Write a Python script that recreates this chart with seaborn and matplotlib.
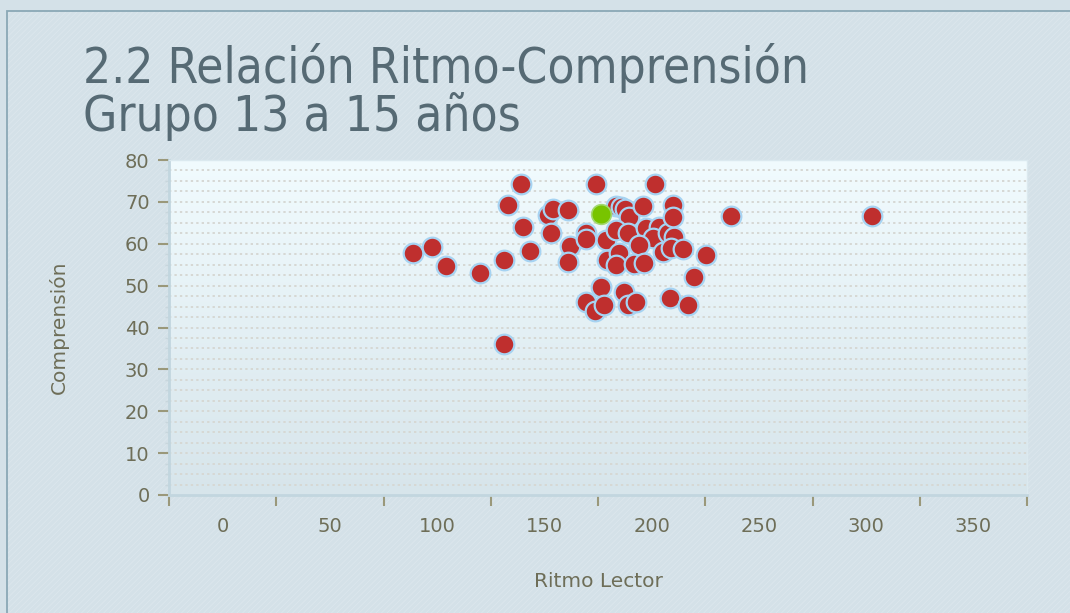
import numpy as np
import pandas as pd
import matplotlib
matplotlib.use("Agg")
import matplotlib.pyplot as plt
from matplotlib.patches import Rectangle
from matplotlib.ticker import MultipleLocator, FixedLocator
import seaborn as sns

# datos (Ritmo lector, Comprension)
ritmo = [88.8, 97.7, 104.2, 120.1, 131.3, 131.3, 133.2, 139.3, 140.2, 143.5,
         151.9, 154.2, 153.3, 161.2, 162.1, 161.2, 169.6, 169.6, 174.3, 169.6,
         173.4, 176.2, 177.6, 178.5, 179.4, 183.6, 185.5, 187.4, 189.3, 183.6,
         188.8, 184.6, 183.2, 195.8, 197.2, 203.3, 200.5, 207.5, 210.3, 193.9,
         205.1, 208.9, 214.5, 191.6, 196.3, 186.9, 188.8, 192.5, 201.4, 209.8,
         209.8, 225.2, 219.6, 208.4, 216.8, 236.9, 302.8]
comprension = [57.8, 59.2, 54.7, 53.0, 56.1, 36.1, 69.3, 74.3, 64.0, 58.3,
               66.9, 68.3, 62.6, 68.1, 59.5, 55.6, 62.6, 61.1, 74.3, 46.1,
               43.9, 49.7, 45.4, 60.9, 56.1, 69.0, 68.8, 68.3, 66.4, 63.3,
               62.6, 57.8, 54.9, 69.0, 63.8, 64.0, 61.4, 62.6, 61.6, 59.7,
               58.0, 59.0, 58.7, 55.2, 55.4, 48.5, 45.4, 46.1, 74.3, 69.3,
               66.4, 57.3, 52.1, 47.0, 45.4, 66.6, 66.6]
# punto destacado (verde)
ritmo_destacado = [176.6]
comprension_destacado = [67.1]

y_ticks = list(range(0, 81, 10))
x_labels = list(range(0, 351, 50))
x_tick_marks = list(range(-25, 376, 50))

titulo_1 = "2.2 Relación Ritmo-Comprensión"
titulo_2 = "Grupo 13 a 15 años"

df = pd.DataFrame({"Ritmo Lector": ritmo, "Comprensión": comprension})
df_dest = pd.DataFrame({"Ritmo Lector": ritmo_destacado, "Comprensión": comprension_destacado})

sns.set_theme(style="white")
plt.rcParams['font.family'] = ['DejaVu Sans']
plt.rcParams['hatch.linewidth'] = 0.6

txt_col = "#6e6e58"
tick_col = "#9a987a"

fig = plt.figure(figsize=(10.7, 6.13), dpi=100)
fig.patch.set_facecolor("#d4e1e8")

# fondo rayado + borde
bg = Rectangle((7 / 1070, 0), 1.2, (613 - 11) / 613, transform=fig.transFigure,
               facecolor="#d4e1e8", edgecolor="#dce7ed", hatch="//////",
               linewidth=0, zorder=-10)
fig.patches.append(bg)
border = Rectangle((7 / 1070, -0.1), 1.2, 1.1 - 11 / 613, transform=fig.transFigure,
                   facecolor="none", edgecolor="#8aa8b6", linewidth=1.3, zorder=-9)
fig.patches.append(border)

ax = fig.add_axes([169 / 1070, 1 - 495 / 613, (1027 - 169) / 1070, (495 - 160) / 613])
ax.set_facecolor("none")

# degradado del area de trazado
grad = np.linspace(0, 1, 256).reshape(-1, 1)
cmap = matplotlib.colors.LinearSegmentedColormap.from_list("g", ["#f1fbfe", "#d7e5eb"])
ax.imshow(grad, aspect="auto", cmap=cmap, extent=[0, 1, 0, 1],
          transform=ax.transAxes, zorder=0)

sns.scatterplot(data=df, x="Ritmo Lector", y="Comprensión", ax=ax, s=200,
                color="#bf2f2e", edgecolor="#a6d3f2", linewidth=1.6, zorder=3)
sns.scatterplot(data=df_dest, x="Ritmo Lector", y="Comprensión", ax=ax, s=200,
                color="#78c400", edgecolor="#a2d870", linewidth=1.2, zorder=4)

ax.set_xlim(-25, 375)
ax.set_ylim(0, 80)

# lineas de cuadricula punteadas cada 2.5
for v in np.arange(2.5, 80, 2.5):
    ax.axhline(v, color="#d6d8d4", linestyle=(0, (1.2, 1.6)), linewidth=1.4, zorder=1)

ax.yaxis.set_major_locator(FixedLocator(y_ticks))
ax.yaxis.set_minor_locator(MultipleLocator(2.5))
ax.xaxis.set_major_locator(FixedLocator(x_labels))
ax.xaxis.set_minor_locator(FixedLocator(x_tick_marks))

ax.tick_params(axis="y", which="major", length=8, width=1.5, color=tick_col,
               pad=6, labelsize=14, labelcolor=txt_col, left=True)
ax.tick_params(axis="y", which="minor", length=3, width=1, color="#c8d6dc", left=True)
ax.tick_params(axis="x", which="major", length=0, pad=16, labelsize=14, labelcolor=txt_col)
ax.tick_params(axis="x", which="minor", length=8, width=1.5, color=tick_col,
               bottom=True, direction="out")

for s in ["left", "bottom"]:
    ax.spines[s].set_color("#c2d6df")
    ax.spines[s].set_linewidth(2)
for s in ["top", "right"]:
    ax.spines[s].set_color("#dbe9ef")
    ax.spines[s].set_linewidth(1)

ax.set_xlabel("Ritmo Lector", fontsize=14.5, color=txt_col, labelpad=26)
ax.set_ylabel("Comprensión", fontsize=14.5, color=txt_col, labelpad=40)

fig.text(83 / 1070, 1 - 83 / 613, titulo_1, fontsize=35.5, color="#566a74",
         ha="left", va="baseline", fontstretch="condensed")
fig.text(83 / 1070, 1 - 131 / 613, titulo_2, fontsize=35.5, color="#566a74",
         ha="left", va="baseline", fontstretch="condensed")

fig.savefig("out.png", dpi=100, facecolor=fig.get_facecolor())
